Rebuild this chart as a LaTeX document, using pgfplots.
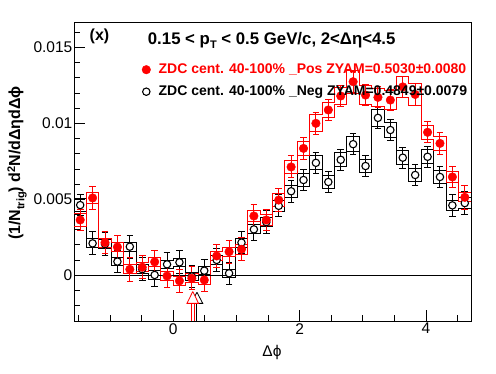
\documentclass[border=0pt]{standalone}
\usepackage{pgfplots}
\pgfplotsset{compat=1.18}
\usepackage{pgfplotstable}
\usepackage{fontspec}
\setmainfont{Liberation Sans}

% Pos (red): bin index, value, stat. error, syst. half-height (row 32 closes the last step)
\pgfplotstableread{
i y stat sys
0 0.00364 0.00072 0.00042
1 0.00509 0.00077 0.00037
2 0.00215 0.00075 0.00030
3 0.00186 0.00073 0.00030
4 0.00039 0.00077 0.00030
5 0.00053 0.00075 0.00030
6 0.00088 0.00078 0.00030
7 -0.00005 0.00075 0.00030
8 -0.00037 0.00077 0.00030
9 -0.00020 0.00075 0.00030
10 -0.00031 0.00075 0.00030
11 0.00127 0.00075 0.00030
12 0.00155 0.00076 0.00030
13 0.00171 0.00075 0.00032
14 0.00390 0.00075 0.00035
15 0.00364 0.00072 0.00035
16 0.00495 0.00075 0.00040
17 0.00713 0.00072 0.00045
18 0.00835 0.00072 0.00048
19 0.01000 0.00072 0.00055
20 0.01088 0.00070 0.00050
21 0.01180 0.00070 0.00055
22 0.01274 0.00070 0.00075
23 0.01186 0.00070 0.00060
24 0.01171 0.00070 0.00060
25 0.01153 0.00070 0.00060
26 0.01240 0.00070 0.00070
27 0.01190 0.00070 0.00070
28 0.00941 0.00070 0.00048
29 0.00868 0.00070 0.00047
30 0.00647 0.00072 0.00035
31 0.00513 0.00077 0.00030
32 0.00513 0.00077 0.00030
}\postab

% Neg (black)
\pgfplotstableread{
i y stat sys
0 0.00462 0.00070 0.00040
1 0.00210 0.00076 0.00030
2 0.00205 0.00075 0.00030
3 0.00090 0.00075 0.00028
4 0.00188 0.00075 0.00030
5 0.00040 0.00075 0.00028
6 0.00002 0.00075 0.00028
7 0.00072 0.00075 0.00028
8 0.00085 0.00075 0.00028
9 -0.00008 0.00075 0.00028
10 0.00030 0.00075 0.00028
11 0.00101 0.00075 0.00028
12 0.00013 0.00072 0.00028
13 0.00215 0.00073 0.00030
14 0.00302 0.00073 0.00030
15 0.00350 0.00073 0.00030
16 0.00457 0.00072 0.00035
17 0.00553 0.00072 0.00038
18 0.00627 0.00072 0.00040
19 0.00740 0.00070 0.00045
20 0.00614 0.00070 0.00040
21 0.00760 0.00070 0.00045
22 0.00863 0.00070 0.00050
23 0.00719 0.00070 0.00045
24 0.01036 0.00070 0.00055
25 0.00956 0.00070 0.00050
26 0.00774 0.00070 0.00045
27 0.00660 0.00070 0.00040
28 0.00780 0.00070 0.00045
29 0.00647 0.00070 0.00040
30 0.00460 0.00072 0.00035
31 0.00475 0.00075 0.00035
32 0.00475 0.00075 0.00035
}\negtab

\begin{document}
\begin{tikzpicture}
\useasboundingbox (-74pt,-53pt) rectangle (422pt,321pt);
\begin{axis}[
  name=ax, at={(0,0)}, anchor=south west,
  scale only axis, width=397pt, height=299pt,
  xmin=-1.5708, xmax=4.7124, ymin=-0.00301, ymax=0.01667,
  scaled y ticks=false, scaled x ticks=false,
  xtick={0,2,4}, xticklabels={0,2,4},
  minor xtick={-1.5,-1,-0.5,0.5,1,1.5,2.5,3,3.5,4.5},
  ytick={0,0.005,0.01,0.015}, yticklabels={0,0.005,0.01,0.015},
  minor ytick={-0.002,-0.001,0.001,0.002,0.003,0.004,0.006,0.007,0.008,0.009,0.011,0.012,0.013,0.014,0.016},
  tick align=inside, xtick pos=bottom, ytick pos=left,
  major tick length=11pt, minor tick length=5.5pt,
  tick style={black, line width=0.8pt},
  axis line style={line width=0.8pt},
  tick label style={font=\fontsize{15.5}{16}\selectfont},
  yticklabel style={inner sep=1.5pt},
  xticklabel style={inner sep=2pt},
  legend style={at={(rel axis cs:0.1708,0.8662)}, anchor=north west, draw=none, fill=none,
    inner sep=0pt, row sep=7pt,
    font=\bfseries\fontsize{14}{14}\selectfont,
    nodes={text height=10pt, text depth=3pt, inner sep=1pt},
    /tikz/every odd column/.append style={column sep=7pt}},
  legend cell align=left,
]
% syst. boxes as upper and lower step outlines
\addplot [black, line width=1pt, const plot mark left, forget plot]
  table [x expr={-pi/2+\thisrow{i}*pi/16}, y expr={\thisrow{y}+\thisrow{sys}}] {\negtab};
\addplot [black, line width=1pt, const plot mark left, forget plot]
  table [x expr={-pi/2+\thisrow{i}*pi/16}, y expr={\thisrow{y}-\thisrow{sys}}] {\negtab};
\addplot [red, line width=1pt, const plot mark left, forget plot]
  table [x expr={-pi/2+\thisrow{i}*pi/16}, y expr={\thisrow{y}+\thisrow{sys}}] {\postab};
\addplot [red, line width=1pt, const plot mark left, forget plot]
  table [x expr={-pi/2+\thisrow{i}*pi/16}, y expr={\thisrow{y}-\thisrow{sys}}] {\postab};
% zero line
\addplot [black, line width=0.8pt, forget plot] coordinates {(-1.5708,0) (4.7124,0)};
% ZYAM arrows
\addplot [black, line width=0.8pt, forget plot] coordinates {(0.365,-0.00301) (0.365,-0.00185)};
\addplot [black, line width=0.8pt, fill=white, forget plot] coordinates {(0.375,-0.00112) (0.283,-0.00185) (0.467,-0.00185) (0.375,-0.00112)};
\addplot [red, line width=0.8pt, forget plot] coordinates {(0.291,-0.00301) (0.291,-0.00185)};
\addplot [red, line width=0.8pt, forget plot] coordinates {(0.327,-0.00301) (0.327,-0.00185)};
\addplot [red, line width=0.8pt, fill=white, forget plot] coordinates {(0.309,-0.00107) (0.217,-0.00185) (0.401,-0.00185) (0.309,-0.00107)};
% points with stat. errors
\addplot [black, only marks, mark=*, mark size=3.7pt, mark options={fill=white, draw=black, line width=1.1pt},
  skip coords between index={32}{33}, forget plot,
  error bars/.cd, y dir=both, y explicit, error bar style={line width=1pt, black},
  error mark options={rotate=90, mark size=3.3pt, line width=1pt, black}]
  table [x expr={-pi/2+(\thisrow{i}+0.5)*pi/16}, y=y, y error=stat] {\negtab};
\addplot [red, only marks, mark=*, mark size=4.3pt,
  skip coords between index={32}{33}, forget plot,
  error bars/.cd, y dir=both, y explicit, error bar style={line width=1pt, red},
  error mark options={rotate=90, mark size=3.3pt, line width=1pt, red}]
  table [x expr={-pi/2+(\thisrow{i}+0.5)*pi/16}, y=y, y error=stat] {\postab};
% legend
\addlegendimage{only marks, mark=*, red, mark size=4.3pt}
\addlegendentry{\textcolor{red}{ZDC cent. 40-100\% \_Pos ZYAM=0.5030±0.0080}}
\addlegendimage{only marks, mark=*, mark size=3.7pt, mark options={fill=white, draw=black, line width=1.1pt}}
\addlegendentry{ZDC cent. 40-100\% \_Neg ZYAM=0.4849±0.0079}
\end{axis}
\node[font=\bfseries\fontsize{16}{16}\selectfont, inner sep=0pt] at (25.5pt,285pt) {(x)};
\node[font=\bfseries\fontsize{16.8}{17}\selectfont, inner sep=0pt, anchor=base west] at (73.7pt,276pt)
  {0.15 < p\raisebox{-0.45ex}{\fontsize{11}{11}\selectfont T} < 0.5 GeV/c, 2<Δη<4.5};
\node[font=\bfseries\fontsize{16}{16}\selectfont, inner sep=0pt, rotate=90] at (-57pt,158pt)
  {(1/N\raisebox{-0.5ex}{\fontsize{11}{11}\selectfont trig}) d\raisebox{0.6ex}{\fontsize{11}{11}\selectfont 2}N/dΔηdΔϕ};
\node[font=\fontsize{15.5}{16}\selectfont, inner sep=0pt] at (198pt,-31pt) {Δϕ};
\end{tikzpicture}
\end{document}
